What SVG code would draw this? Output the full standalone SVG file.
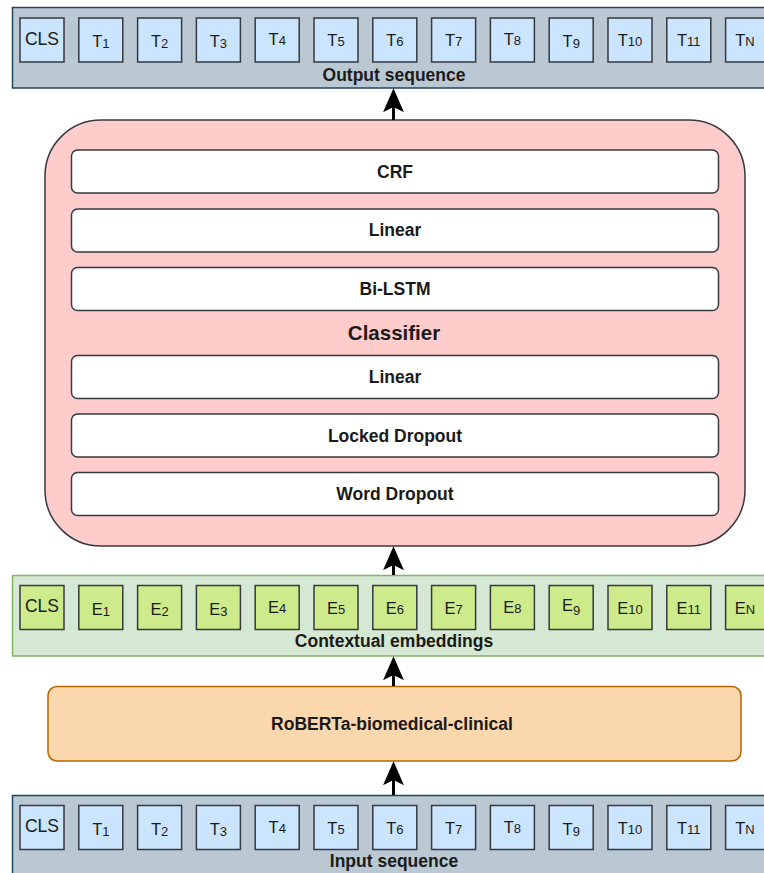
<svg xmlns="http://www.w3.org/2000/svg" width="764" height="873" viewBox="0 0 764 873">
<style>
.bar{fill:#bac8d3;stroke:#23445d;stroke-width:1.5}
.gbar{fill:#d5e8d4;stroke:#82b366;stroke-width:1.5}
.tok{fill:#cce5ff;stroke:#36393d;stroke-width:1.5}
.emb{fill:#cdeb8b;stroke:#36393d;stroke-width:1.5}
.layer{fill:#ffffff;stroke:#36393d;stroke-width:1.5}
.cls{fill:#ffcccc;stroke:#36393d;stroke-width:1.5}
.rob{fill:#fad7ac;stroke:#b46504;stroke-width:1.5}
text{font-family:"Liberation Sans",Arial,sans-serif;fill:#1a1a1a}
.lbl{font-size:17.5px;font-weight:bold;text-anchor:middle}
.big{font-size:20.5px;font-weight:bold;text-anchor:middle}
.t{font-size:16.5px;text-anchor:middle}
.c{font-size:17.5px;text-anchor:middle}
.s{font-size:13px}
.conn{stroke:#000;stroke-width:3;fill:none}
</style>
<defs>
<marker id="ah" markerUnits="userSpaceOnUse" markerWidth="24" markerHeight="22" viewBox="0 0 23 20" refX="5" refY="10" orient="auto">
<path d="M0,0 L23,10 L0,20 L5,10 Z" fill="#000"/>
</marker>
</defs>

<g id="output-sequence">
<rect class="bar" x="12.5" y="7.5" width="760" height="80.5"/>
<rect class="tok" x="20" y="18" width="44" height="44"/>
<text class="c" x="42" y="44.5">CLS</text>
<rect class="tok" x="78.8" y="18" width="44" height="44"/>
<text class="t" x="100.8" y="47">T<tspan class="s" dy="1">1</tspan></text>
<rect class="tok" x="137.6" y="18" width="44" height="44"/>
<text class="t" x="159.6" y="47">T<tspan class="s" dy="1">2</tspan></text>
<rect class="tok" x="196.4" y="18" width="44" height="44"/>
<text class="t" x="218.4" y="47">T<tspan class="s" dy="1">3</tspan></text>
<rect class="tok" x="255.2" y="18" width="44" height="44"/>
<text class="t" x="277.2" y="45">T<tspan class="s" dy="0">4</tspan></text>
<rect class="tok" x="314" y="18" width="44" height="44"/>
<text class="t" x="336" y="46">T<tspan class="s" dy="0">5</tspan></text>
<rect class="tok" x="372.8" y="18" width="44" height="44"/>
<text class="t" x="394.8" y="46">T<tspan class="s" dy="0">6</tspan></text>
<rect class="tok" x="431.6" y="18" width="44" height="44"/>
<text class="t" x="453.6" y="46">T<tspan class="s" dy="0">7</tspan></text>
<rect class="tok" x="490.4" y="18" width="44" height="44"/>
<text class="t" x="512.4" y="45">T<tspan class="s" dy="0">8</tspan></text>
<rect class="tok" x="549.2" y="18" width="44" height="44"/>
<text class="t" x="571.2" y="47">T<tspan class="s" dy="1">9</tspan></text>
<rect class="tok" x="608" y="18" width="44" height="44"/>
<text class="t" x="630" y="46">T<tspan class="s" dy="0">10</tspan></text>
<rect class="tok" x="666.8" y="18" width="44" height="44"/>
<text class="t" x="688.8" y="46">T<tspan class="s" dy="0">11</tspan></text>
<rect class="tok" x="725.6" y="18" width="44" height="44"/>
<text class="t" x="745" y="46">T<tspan class="s" dy="0">N</tspan></text>
<text class="lbl" x="394" y="80.5">Output sequence</text>
</g>

<g id="classifier">
<rect class="cls" x="45" y="120" width="700" height="426" rx="56" ry="56"/>
<text class="big" x="394" y="340">Classifier</text>
</g>
<g id="crf">
<rect class="layer" x="71.5" y="150" width="647" height="43" rx="6" ry="6"/>
<text class="lbl" x="395" y="177.5">CRF</text>
</g>
<g id="linear-top">
<rect class="layer" x="71.5" y="209" width="647" height="43" rx="6" ry="6"/>
<text class="lbl" x="395" y="236">Linear</text>
</g>
<g id="bilstm">
<rect class="layer" x="71.5" y="267.5" width="647" height="43" rx="6" ry="6"/>
<text class="lbl" x="395" y="295">Bi-LSTM</text>
</g>
<g id="linear-bottom">
<rect class="layer" x="71.5" y="355.5" width="647" height="43" rx="6" ry="6"/>
<text class="lbl" x="395" y="383">Linear</text>
</g>
<g id="locked-dropout">
<rect class="layer" x="71.5" y="414" width="647" height="43" rx="6" ry="6"/>
<text class="lbl" x="395" y="441.5">Locked Dropout</text>
</g>
<g id="word-dropout">
<rect class="layer" x="71.5" y="472.5" width="647" height="43" rx="6" ry="6"/>
<text class="lbl" x="395" y="500">Word Dropout</text>
</g>

<g id="contextual-embeddings">
<rect class="gbar" x="12.5" y="575.5" width="760" height="80.5"/>
<rect class="emb" x="20" y="585.5" width="44" height="44"/>
<text class="c" x="42" y="612">CLS</text>
<rect class="emb" x="78.8" y="585.5" width="44" height="44"/>
<text class="t" x="100.8" y="614.5">E<tspan class="s" dy="1">1</tspan></text>
<rect class="emb" x="137.6" y="585.5" width="44" height="44"/>
<text class="t" x="159.6" y="614.5">E<tspan class="s" dy="1">2</tspan></text>
<rect class="emb" x="196.4" y="585.5" width="44" height="44"/>
<text class="t" x="218.4" y="614.5">E<tspan class="s" dy="1">3</tspan></text>
<rect class="emb" x="255.2" y="585.5" width="44" height="44"/>
<text class="t" x="277.2" y="612.5">E<tspan class="s" dy="0">4</tspan></text>
<rect class="emb" x="314" y="585.5" width="44" height="44"/>
<text class="t" x="336" y="613.5">E<tspan class="s" dy="0">5</tspan></text>
<rect class="emb" x="372.8" y="585.5" width="44" height="44"/>
<text class="t" x="394.8" y="613.5">E<tspan class="s" dy="0">6</tspan></text>
<rect class="emb" x="431.6" y="585.5" width="44" height="44"/>
<text class="t" x="453.6" y="613.5">E<tspan class="s" dy="0">7</tspan></text>
<rect class="emb" x="490.4" y="585.5" width="44" height="44"/>
<text class="t" x="512.4" y="612.5">E<tspan class="s" dy="0">8</tspan></text>
<rect class="emb" x="549.2" y="585.5" width="44" height="44"/>
<text class="t" x="571.2" y="611">E<tspan class="s" dy="4">9</tspan></text>
<rect class="emb" x="608" y="585.5" width="44" height="44"/>
<text class="t" x="630" y="613.5">E<tspan class="s" dy="0">10</tspan></text>
<rect class="emb" x="666.8" y="585.5" width="44" height="44"/>
<text class="t" x="688.8" y="613.5">E<tspan class="s" dy="0">11</tspan></text>
<rect class="emb" x="725.6" y="585.5" width="44" height="44"/>
<text class="t" x="745" y="613.5">E<tspan class="s" dy="0">N</tspan></text>
<text class="lbl" x="394" y="647">Contextual embeddings</text>
</g>

<g id="roberta">
<rect class="rob" x="48" y="686.5" width="693" height="74.5" rx="9" ry="9"/>
<text class="lbl" x="392" y="730">RoBERTa-biomedical-clinical</text>
</g>

<g id="input-sequence">
<rect class="bar" x="12.5" y="795.5" width="760" height="90"/>
<rect class="tok" x="20" y="805.5" width="44" height="44"/>
<text class="c" x="42" y="832">CLS</text>
<rect class="tok" x="78.8" y="805.5" width="44" height="44"/>
<text class="t" x="100.8" y="834.5">T<tspan class="s" dy="1">1</tspan></text>
<rect class="tok" x="137.6" y="805.5" width="44" height="44"/>
<text class="t" x="159.6" y="834.5">T<tspan class="s" dy="1">2</tspan></text>
<rect class="tok" x="196.4" y="805.5" width="44" height="44"/>
<text class="t" x="218.4" y="834.5">T<tspan class="s" dy="1">3</tspan></text>
<rect class="tok" x="255.2" y="805.5" width="44" height="44"/>
<text class="t" x="277.2" y="832.5">T<tspan class="s" dy="0">4</tspan></text>
<rect class="tok" x="314" y="805.5" width="44" height="44"/>
<text class="t" x="336" y="833.5">T<tspan class="s" dy="0">5</tspan></text>
<rect class="tok" x="372.8" y="805.5" width="44" height="44"/>
<text class="t" x="394.8" y="833.5">T<tspan class="s" dy="0">6</tspan></text>
<rect class="tok" x="431.6" y="805.5" width="44" height="44"/>
<text class="t" x="453.6" y="833.5">T<tspan class="s" dy="0">7</tspan></text>
<rect class="tok" x="490.4" y="805.5" width="44" height="44"/>
<text class="t" x="512.4" y="832.5">T<tspan class="s" dy="0">8</tspan></text>
<rect class="tok" x="549.2" y="805.5" width="44" height="44"/>
<text class="t" x="571.2" y="834.5">T<tspan class="s" dy="1">9</tspan></text>
<rect class="tok" x="608" y="805.5" width="44" height="44"/>
<text class="t" x="630" y="833.5">T<tspan class="s" dy="0">10</tspan></text>
<rect class="tok" x="666.8" y="805.5" width="44" height="44"/>
<text class="t" x="688.8" y="833.5">T<tspan class="s" dy="0">11</tspan></text>
<rect class="tok" x="725.6" y="805.5" width="44" height="44"/>
<text class="t" x="745" y="833.5">T<tspan class="s" dy="0">N</tspan></text>
<text class="lbl" x="394" y="867">Input sequence</text>
</g>

<g id="connectors">
<line class="conn" x1="393.5" y1="120" x2="393.5" y2="107" marker-end="url(#ah)"/>
<line class="conn" x1="393.5" y1="575" x2="393.5" y2="565" marker-end="url(#ah)"/>
<line class="conn" x1="393.5" y1="686" x2="393.5" y2="675" marker-end="url(#ah)"/>
<line class="conn" x1="393.5" y1="795" x2="393.5" y2="780" marker-end="url(#ah)"/>
</g>
</svg>
